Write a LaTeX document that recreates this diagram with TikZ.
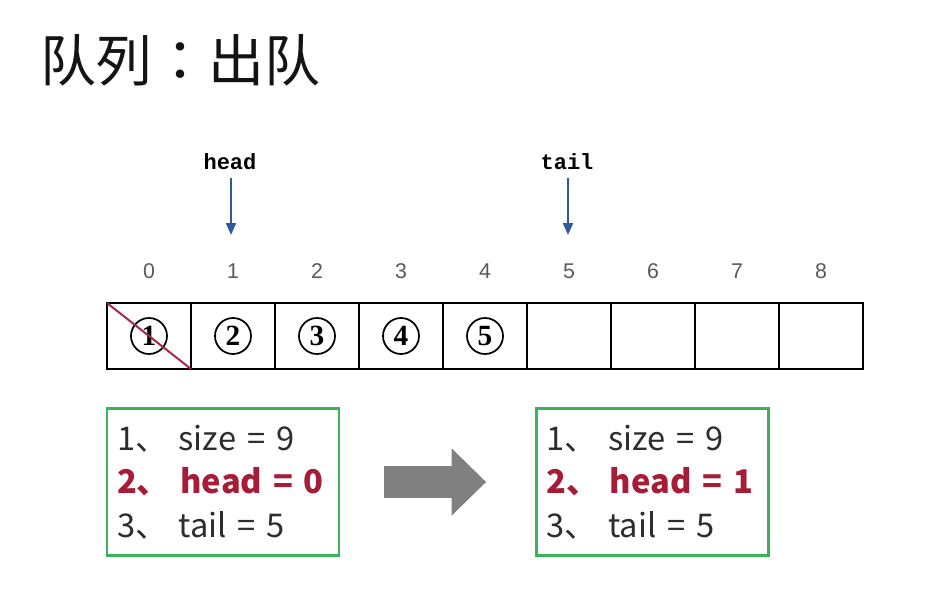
\documentclass[tikz,border=0pt]{standalone}
\usepackage{fontspec}
\setmainfont{Noto Sans CJK SC}
\newfontfamily\titlefont{Noto Sans CJK TC}
\newfontfamily\idxfont{Liberation Sans}
\newfontfamily\ptrfont{Liberation Mono}
\newfontfamily\numfont{Liberation Serif}
\usetikzlibrary{arrows.meta}
\definecolor{boxgreen}{RGB}{60,178,90}
\definecolor{hotred}{RGB}{165,29,54}
\definecolor{ptrblue}{RGB}{46,90,155}
\definecolor{crossred}{RGB}{168,40,70}
\definecolor{txtgray}{RGB}{45,45,45}
\tikzset{
cell/.style={rectangle, draw, line width=1.5pt, minimum width=63pt, minimum height=49.5pt, inner sep=0pt, outer sep=0pt},
idx/.style={font=\idxfont\fontsize{16}{16}\selectfont, text=black!65, inner sep=0pt},
ptr/.style={font=\ptrfont\bfseries\fontsize{16.5}{16.5}\selectfont, inner sep=2pt},
ptrarrow/.style={ptrblue, line width=1.5pt, shorten <=4pt, -{Triangle[length=9pt,width=7.5pt]}},
elem/.style={circle, draw, line width=1.3pt, minimum size=27pt, inner sep=0pt, font=\numfont\bfseries\fontsize{22}{22}\selectfont},
infobox/.style={rectangle, draw=boxgreen, line width=2pt, minimum height=110pt, text width=159pt, inner xsep=7.5pt, align=left, text=txtgray, font=\fontsize{24.5}{32.5}\selectfont},
bigarrow/.style={draw=black!50, line width=24pt, -{Triangle[length=26pt,width=49pt]}}
}
\begin{document}
\begin{tikzpicture}[x=0.75pt, y=-0.75pt]
\useasboundingbox (0,0) rectangle (925,610);
\node [anchor=west, inner sep=0pt, font=\titlefont\fontsize{42}{42}\selectfont, text=black!92] (title) at (40,60) {队列：出队};

\foreach \i in {0,...,8} {
  \node [cell] (c\i) at (149+84*\i, 336) {};
  \node [idx] (n\i) at (149+84*\i, 271) {\i};
}
\foreach \i in {1,...,5} {
  \pgfmathtruncatemacro{\j}{\i-1}
  \node [elem] (e\i) at (c\j) {\i};
}
\draw [crossred, line width=1.5pt] (c0.north west) -- (c0.south east);

\node [ptr] (head) at (230,162) {head};
\coordinate (headend) at (231,235);
\node [ptr] (tail) at (567,162) {tail};
\coordinate (tailend) at (568,235);
\draw [ptrarrow] (head.south -| headend) -- (headend);
\draw [ptrarrow] (tail.south -| tailend) -- (tailend);

\node [infobox] (lbox) at (223,482) {1、 size = 9\\ \textcolor{hotred}{\bfseries 2、 head = 0}\\ 3、 tail = 5};
\node [infobox] (rbox) at (652.5,482) {1、 size = 9\\ \textcolor{hotred}{\bfseries 2、 head = 1}\\ 3、 tail = 5};
\draw [bigarrow, shorten <=33pt, shorten >=36.75pt] (lbox) -- (rbox);
\end{tikzpicture}
\end{document}
